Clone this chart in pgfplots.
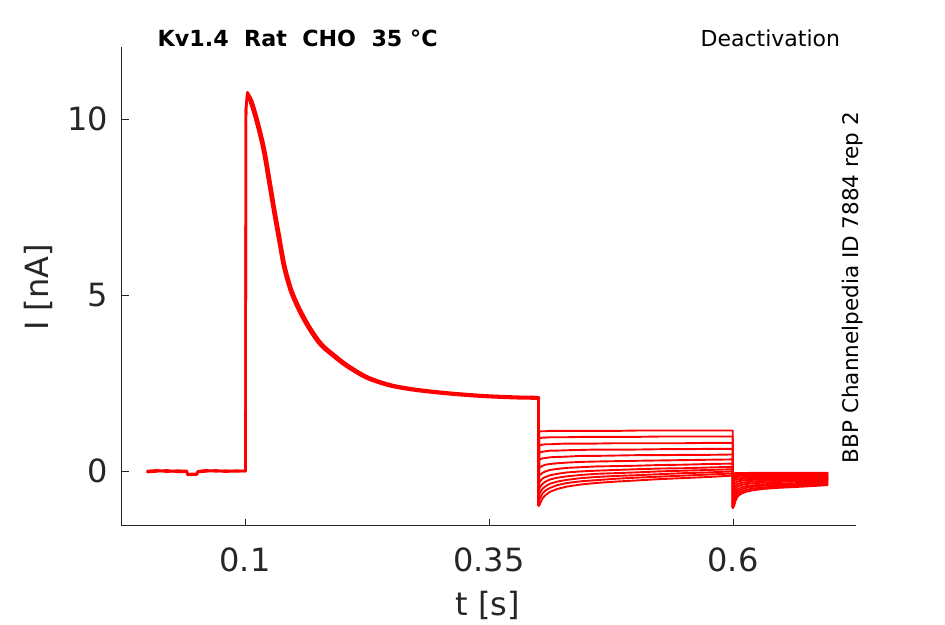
\documentclass[border=0pt]{standalone}
\usepackage{fontspec}
\setmainfont{DejaVu Sans}
\usepackage{pgfplots}
\pgfplotsset{compat=1.18}
\usepackage{pgfplotstable}
\definecolor{axgray}{RGB}{38,38,38}

\pgfplotstableread{
t v
0.0000 0.00
0.0100 0.02
0.0200 -0.02
0.0300 0.01
0.0405 0.00
0.0412 -0.09
0.0508 -0.08
0.0515 -0.01
0.0600 0.02
0.0700 -0.01
0.0800 0.01
0.0900 -0.01
0.1005 0.00
0.1010 10.26
0.1024 10.73
}\riseA

\pgfplotstableread{
t v
0.1024 10.73
0.1050 10.50
0.1085 10.20
0.1136 9.68
0.1188 9.05
0.1239 8.22
0.1290 7.37
0.1341 6.58
0.1392 5.80
0.1461 5.12
0.1546 4.57
0.1649 4.05
0.1768 3.58
0.1905 3.25
0.2042 2.96
0.2247 2.63
0.2486 2.41
0.2760 2.28
0.3100 2.18
0.3439 2.11
0.3780 2.07
0.3995 2.06
0.4005 2.06
}\decayA

\pgfplotstableread{
t v
0.0000 -0.03
0.0100 -0.01
0.0200 0.02
0.0300 -0.02
0.0405 -0.02
0.0412 -0.11
0.0508 -0.10
0.0515 -0.03
0.0600 -0.01
0.0700 0.02
0.0800 -0.02
0.0900 0.01
0.1005 0.00
0.1010 10.30
0.1026 10.76
}\riseB

\pgfplotstableread{
t v
0.1026 10.76
0.1070 10.54
0.1105 10.24
0.1156 9.72
0.1208 9.09
0.1259 8.26
0.1310 7.41
0.1361 6.62
0.1412 5.84
0.1481 5.16
0.1566 4.61
0.1669 4.09
0.1788 3.62
0.1925 3.29
0.2062 3.00
0.2267 2.67
0.2506 2.45
0.2780 2.32
0.3120 2.22
0.3459 2.15
0.3800 2.11
0.3995 2.10
0.4005 2.08
}\decayB

\pgfplotstableread{
t y1 y2 y3 y4 y5 y6 y7 y8 y9 y10 y11 y12
0.4005 2.06 2.06 2.06 2.06 2.06 2.06 2.06 2.06 2.06 2.06 2.06 2.06
0.4008 -0.98 -0.98 -0.98 -0.98 -0.98 -0.98 -0.98 -0.98 -0.98 -0.98 -0.98 -0.98
0.4015 1.12 0.94 0.73 0.53 0.32 0.09 -0.13 -0.32 -0.49 -0.66 -0.82 -0.98
0.4030 1.13 0.94 0.74 0.54 0.34 0.12 -0.09 -0.27 -0.43 -0.58 -0.73 -0.88
0.4050 1.13 0.95 0.75 0.55 0.36 0.15 -0.05 -0.21 -0.36 -0.50 -0.63 -0.77
0.4080 1.13 0.95 0.76 0.56 0.37 0.18 -0.01 -0.17 -0.30 -0.43 -0.55 -0.68
0.4125 1.14 0.96 0.76 0.58 0.39 0.20 0.03 -0.12 -0.24 -0.36 -0.48 -0.59
0.4200 1.14 0.96 0.77 0.58 0.40 0.22 0.06 -0.08 -0.19 -0.30 -0.40 -0.51
0.4300 1.14 0.96 0.78 0.59 0.41 0.24 0.09 -0.04 -0.15 -0.25 -0.34 -0.44
0.4450 1.14 0.97 0.78 0.60 0.43 0.26 0.11 -0.01 -0.11 -0.20 -0.29 -0.38
0.4600 1.14 0.97 0.78 0.61 0.43 0.27 0.13 0.01 -0.08 -0.17 -0.26 -0.34
0.4800 1.14 0.97 0.79 0.61 0.44 0.28 0.14 0.03 -0.06 -0.14 -0.22 -0.30
0.5000 1.15 0.97 0.79 0.61 0.45 0.29 0.15 0.05 -0.04 -0.12 -0.19 -0.27
0.5250 1.15 0.98 0.79 0.62 0.45 0.30 0.17 0.07 -0.01 -0.09 -0.16 -0.23
0.5500 1.15 0.98 0.79 0.62 0.46 0.31 0.18 0.08 0.01 -0.06 -0.13 -0.20
0.5750 1.15 0.98 0.80 0.63 0.46 0.32 0.20 0.10 0.03 -0.04 -0.10 -0.17
0.5997 1.15 0.98 0.80 0.63 0.47 0.33 0.21 0.12 0.05 -0.01 -0.07 -0.13
0.5999 -1.04 -1.04 -1.04 -1.04 -1.04 -1.04 -1.04 -1.04 -1.04 -1.04 -1.04 -1.04
0.6010 -0.07 -0.11 -0.16 -0.22 -0.29 -0.38 -0.48 -0.58 -0.69 -0.80 -0.90 -1.00
0.6025 -0.06 -0.10 -0.15 -0.20 -0.26 -0.34 -0.42 -0.50 -0.60 -0.68 -0.77 -0.85
0.6045 -0.06 -0.10 -0.14 -0.19 -0.24 -0.30 -0.37 -0.44 -0.52 -0.59 -0.66 -0.73
0.6080 -0.06 -0.09 -0.13 -0.18 -0.23 -0.28 -0.34 -0.40 -0.47 -0.53 -0.59 -0.65
0.6130 -0.06 -0.09 -0.13 -0.17 -0.21 -0.26 -0.32 -0.37 -0.43 -0.48 -0.54 -0.59
0.6200 -0.05 -0.09 -0.12 -0.17 -0.21 -0.25 -0.30 -0.35 -0.41 -0.45 -0.50 -0.55
0.6300 -0.05 -0.09 -0.12 -0.16 -0.20 -0.24 -0.28 -0.33 -0.38 -0.42 -0.47 -0.51
0.6450 -0.05 -0.08 -0.12 -0.16 -0.19 -0.23 -0.27 -0.31 -0.36 -0.40 -0.44 -0.48
0.6600 -0.05 -0.08 -0.11 -0.16 -0.19 -0.23 -0.26 -0.30 -0.35 -0.39 -0.42 -0.46
0.6800 -0.05 -0.08 -0.11 -0.15 -0.19 -0.22 -0.25 -0.29 -0.33 -0.36 -0.40 -0.43
0.6970 -0.05 -0.08 -0.11 -0.15 -0.18 -0.21 -0.24 -0.27 -0.31 -0.34 -0.37 -0.40
}\steps

\begin{document}
\begin{tikzpicture}[x=1pt,y=1pt]
\path[use as bounding box] (0,0) rectangle (945,624);
\begin{axis}[
  at={(121.7pt,98.3pt)}, anchor=south west,
  scale only axis, width=734.3pt, height=478.7pt,
  xmin=-0.0263, xmax=0.726, ymin=-1.554, ymax=12.05,
  axis x line*=bottom, axis y line*=left,
  axis line style={axgray, line width=0.8pt, -},
  xtick={0.1,0.35,0.6}, xticklabels={0.1,0.35,0.6},
  ytick={0,5,10}, yticklabels={0,5,10},
  minor tick num=0,
  tick align=inside, major tick length=7pt,
  tick style={axgray, line width=0.8pt},
  ticklabel style={font=\fontsize{32}{38}\selectfont, text=axgray},
  xticklabel style={anchor=north, inner sep=0pt, yshift=-22.3pt},
  yticklabel style={anchor=east, inner sep=0pt, xshift=-13.7pt},
  every axis plot/.append style={line join=round, line cap=round},
]
\addplot[red, line width=2.6pt] table[x=t, y=v] {\riseA};
\addplot[red, line width=2.6pt] table[x=t, y=v] {\riseB};
\addplot[red, line width=2.6pt, smooth, tension=0.5] table[x=t, y=v] {\decayA};
\addplot[red, line width=2.6pt, smooth, tension=0.5] table[x=t, y=v] {\decayB};
\pgfplotsinvokeforeach{1,...,12}{
  \addplot[red, line width=1.9pt] table[x=t, y=y#1] {\steps};
}
\end{axis}
\node[anchor=base, text=axgray, font=\fontsize{32}{38}\selectfont] at (487.5,8.2) {t [s]};
\node[anchor=base, rotate=90, text=axgray, font=\fontsize{32}{38}\selectfont] at (48.1,336.5) {I [nA]};
\node[anchor=base west, font=\fontsize{22.2}{26}\selectfont\bfseries, inner sep=0pt] at (157.5,577.3) {Kv1.4\ \ Rat\ \ CHO\ \ 35 °C};
\node[anchor=base east, font=\fontsize{22}{26}\selectfont, inner sep=0pt] at (840.3,577.3) {Deactivation};
\node[anchor=base, rotate=90, font=\fontsize{21.5}{26}\selectfont, inner sep=0pt] at (858.3,336.5) {BBP Channelpedia ID 7884 rep 2};
\end{tikzpicture}
\end{document}
